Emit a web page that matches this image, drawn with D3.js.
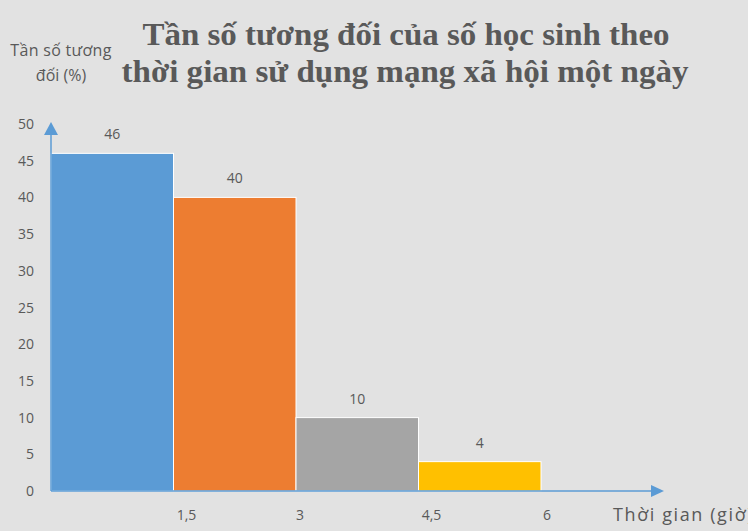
<!DOCTYPE html>
<html><head><meta charset="utf-8">
<script src="https://cdn.jsdelivr.net/npm/d3@7"></script>
<style>html,body{margin:0;padding:0;background:#e2e2e2;overflow:hidden}</style>
</head><body>
<script>
const binStarts = [0, 1.5, 3, 4.5];
const binEnds = [1.5, 3, 4.5, 6];
const values = [46, 40, 10, 4];
const colors = ["#5b9bd5", "#ed7d31", "#a5a5a5", "#ffc000"];
const xTickValues = [1.5, 3, 4.5, 6];
const xTickLabels = ["1,5", "3", "4,5", "6"];
const yTickValues = [0, 5, 10, 15, 20, 25, 30, 35, 40, 45, 50];
const titleLines = ["Tần số tương đối của số học sinh theo", "thời gian sử dụng mạng xã hội một ngày"];
const yTitleLines = ["Tần số tương", "đối (%)"];
const xTitle = "Thời gian (giờ)";

const W = 748, H = 531;
const svg = d3.select("body").append("svg").attr("width", W).attr("height", H);
svg.append("rect").attr("width", W).attr("height", H).attr("fill", "#e2e2e2");

const x = d3.scaleLinear().domain([0, 6]).range([51, 541]);
const y = d3.scaleLinear().domain([0, 50]).range([491, 124]);
const textCol = "#595959";
const axisCol = "#5b9bd5";

// bars
const bars = binStarts.map((s, i) => ({s, e: binEnds[i], v: values[i], c: colors[i]}));
svg.selectAll("rect.bar").data(bars).enter().append("rect")
  .attr("x", d => x(d.s)).attr("y", d => y(d.v))
  .attr("width", d => x(d.e) - x(d.s)).attr("height", d => y(0) - y(d.v))
  .attr("fill", d => d.c).attr("stroke", "#ffffff").attr("stroke-width", 1);

// value labels
svg.selectAll("text.val").data(bars).enter().append("text")
  .attr("x", d => (x(d.s) + x(d.e)) / 2).attr("y", d => y(d.v) - 14)
  .attr("text-anchor", "middle").attr("fill", textCol)
  .attr("font-family", "Open Sans, sans-serif").attr("font-size", 14)
  .text(d => d.v);

// y tick labels
svg.selectAll("text.yt").data(yTickValues).enter().append("text")
  .attr("x", 34).attr("y", d => y(d) + 5)
  .attr("text-anchor", "end").attr("fill", textCol)
  .attr("font-family", "Open Sans, sans-serif").attr("font-size", 14)
  .text(d => d);

// x tick labels
svg.selectAll("text.xt").data(xTickValues).enter().append("text")
  .attr("x", (d, i) => x(d) + [13, 4, 13, 6][i]).attr("y", 520)
  .attr("text-anchor", "middle").attr("fill", textCol)
  .attr("font-family", "Open Sans, sans-serif").attr("font-size", 14)
  .text((d, i) => xTickLabels[i]);

// axes lines with arrows
svg.append("line").attr("x1", x(0)).attr("x2", 652).attr("y1", y(0)).attr("y2", y(0))
  .attr("stroke", axisCol).attr("stroke-width", 1.5);
svg.append("path").attr("d", `M664,${y(0)} L651,${y(0)-6} L651,${y(0)+6} Z`).attr("fill", axisCol);
svg.append("line").attr("x1", x(0)).attr("x2", x(0)).attr("y1", y(0)).attr("y2", 134)
  .attr("stroke", axisCol).attr("stroke-width", 1.5);
svg.append("path").attr("d", `M${x(0)},122 L${x(0)-7},135 L${x(0)+7},135 Z`).attr("fill", axisCol);

// x title
svg.append("text").attr("x", 613).attr("y", 521).attr("fill", textCol)
  .attr("font-family", "Open Sans, sans-serif").attr("font-size", 18)
  .attr("letter-spacing", 1.6)
  .text(xTitle);

// y title
svg.selectAll("text.ytitle").data(yTitleLines).enter().append("text")
  .attr("x", 61).attr("y", (d, i) => 56 + i * 25).attr("text-anchor", "middle")
  .attr("fill", textCol).attr("font-family", "Open Sans, sans-serif").attr("font-size", 16)
  .attr("letter-spacing", (d, i) => [0.3, 0][i])
  .text(d => d);

// title
svg.selectAll("text.title").data(titleLines).enter().append("text")
  .attr("x", (d, i) => [406, 405][i]).attr("y", (d, i) => 45 + i * 37)
  .attr("text-anchor", "middle").attr("fill", textCol)
  .attr("font-family", "Liberation Serif, Times New Roman, serif").attr("font-weight", "bold")
  .attr("font-size", 31)
  .attr("textLength", (d, i) => [527, 567][i]).attr("lengthAdjust", "spacingAndGlyphs")
  .text(d => d);
</script>
</body></html>
